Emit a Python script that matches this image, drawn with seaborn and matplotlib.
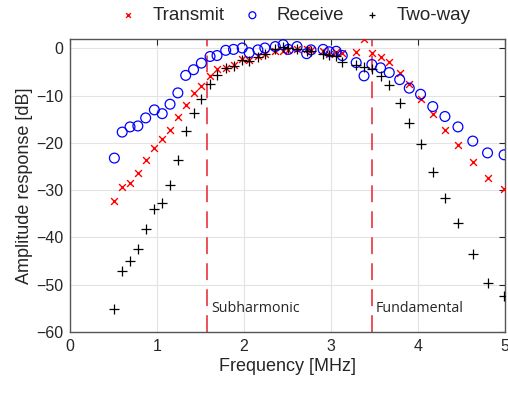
import matplotlib
matplotlib.use("Agg")
import matplotlib.pyplot as plt
import seaborn as sns
import pandas as pd

freq = [0.51, 0.60, 0.69, 0.78, 0.87, 0.97, 1.06, 1.15, 1.24, 1.33, 1.42, 1.51,
        1.61, 1.69, 1.79, 1.88, 1.98, 2.06, 2.16, 2.24, 2.36, 2.45, 2.51, 2.61,
        2.72, 2.77, 2.91, 2.98, 3.06, 3.13, 3.29, 3.38, 3.47, 3.57, 3.67, 3.79,
        3.90, 4.03, 4.17, 4.31, 4.46, 4.63, 4.80, 4.99]
transmit = [-32.3, -29.4, -28.5, -26.3, -23.6, -21.1, -19.1, -17.2, -14.5, -12.0, -9.5, -7.9,
            -5.8, -4.4, -4.1, -3.5, -2.2, -2.4, -1.7, -1.1, -0.6, -0.6, -0.3, -0.2,
            -0.2, -0.4, -0.6, -1.1, -0.8, -1.0, -0.8, 2.0, -0.9, -1.9, -2.9, -5.2,
            -7.5, -10.6, -13.9, -17.3, -20.5, -24.1, -27.5, -29.8]
receive = [-23.2, -17.7, -16.6, -16.4, -14.7, -13.0, -13.8, -11.8, -9.4, -5.7, -4.5, -3.1,
           -1.7, -1.5, -0.4, -0.2, 0.1, -0.9, -0.3, 0.1, 0.4, 0.8, -0.2, 0.4,
           -1.1, -0.3, -0.2, -0.7, -0.6, -1.5, -3.0, -5.8, -3.4, -4.1, -5.1, -6.6,
           -8.4, -9.7, -12.3, -14.4, -16.6, -19.6, -22.1, -22.5]
twoway = [-55.2, -47.0, -44.9, -42.5, -38.2, -34.0, -32.8, -28.8, -23.7, -17.5, -13.7, -10.8,
          -7.5, -5.7, -4.2, -3.7, -2.4, -2.7, -1.8, -1.1, -0.1, 0.3, 0.1, -0.2,
          -0.6, -0.6, -1.1, -1.3, -1.7, -2.8, -3.5, -3.9, -4.3, -5.9, -7.7, -11.6,
          -15.7, -20.3, -26.1, -31.6, -36.9, -43.6, -49.6, -52.4]
series_names = ["Transmit", "Receive", "Two-way"]
vlines = [1.571, 3.468]
vline_labels = ["Subharmonic", "Fundamental"]
xticks = [0, 1, 2, 3, 4, 5]
yticks = [0, -10, -20, -30, -40, -50, -60]

sns.set_style("white")
plt.rcParams["font.family"] = ["Liberation Sans", "DejaVu Sans"]

fig = plt.figure(figsize=(5.08, 3.94), dpi=100)
ax = fig.add_axes([0.1378, 0.1574, 0.8562, 0.7436])

df = pd.DataFrame({"freq": freq, "Transmit": transmit, "Receive": receive, "Two-way": twoway})

sns.scatterplot(data=df, x="freq", y="Transmit", ax=ax, marker="x", color="red",
                s=24, linewidth=1.0, label=series_names[0], zorder=3)
sns.scatterplot(data=df, x="freq", y="Receive", ax=ax, marker="o", facecolor="none",
                edgecolor="blue", s=50, linewidth=0.9, label=series_names[1], zorder=3)
sns.scatterplot(data=df, x="freq", y="Two-way", ax=ax, marker="+", color="black",
                s=48, linewidth=0.9, label=series_names[2], zorder=3)

for xv, lab in zip(vlines, vline_labels):
    ax.axvline(xv, color="#e8202a", linestyle=(0, (11, 6)), linewidth=1.1, zorder=2)
    ax.text(xv + 0.05, -55.0, lab, fontsize=10.3, family=["Open Sans", "DejaVu Sans"],
            color="#262626", va="center", ha="left")

ax.set_xlim(0, 5)
ax.set_ylim(-60, 2)
ax.set_xticks(xticks)
ax.set_yticks(yticks)
ax.grid(True, color="#e3e3e3", linewidth=0.8, zorder=0)
ax.set_axisbelow(True)
ax.tick_params(direction="in", top=True, right=True, length=4, width=0.8,
               colors="#262626", labelsize=11.5, pad=5)
for s in ax.spines.values():
    s.set_color("#555555")
    s.set_linewidth(1.0)
ax.set_xlabel("Frequency [MHz]", fontsize=13, color="#262626", labelpad=3)
ax.set_ylabel("Amplitude response [dB]", fontsize=13, color="#262626", labelpad=2)

handles, labels = ax.get_legend_handles_labels()
ax.legend_.remove()
fig.legend(handles, labels, loc="upper center", bbox_to_anchor=(0.58, 1.025), ncol=3,
           frameon=False, fontsize=13.5, handlelength=1.0, handletextpad=0.8,
           columnspacing=1.0, markerscale=0.7)

fig.savefig("out.png", dpi=100)
